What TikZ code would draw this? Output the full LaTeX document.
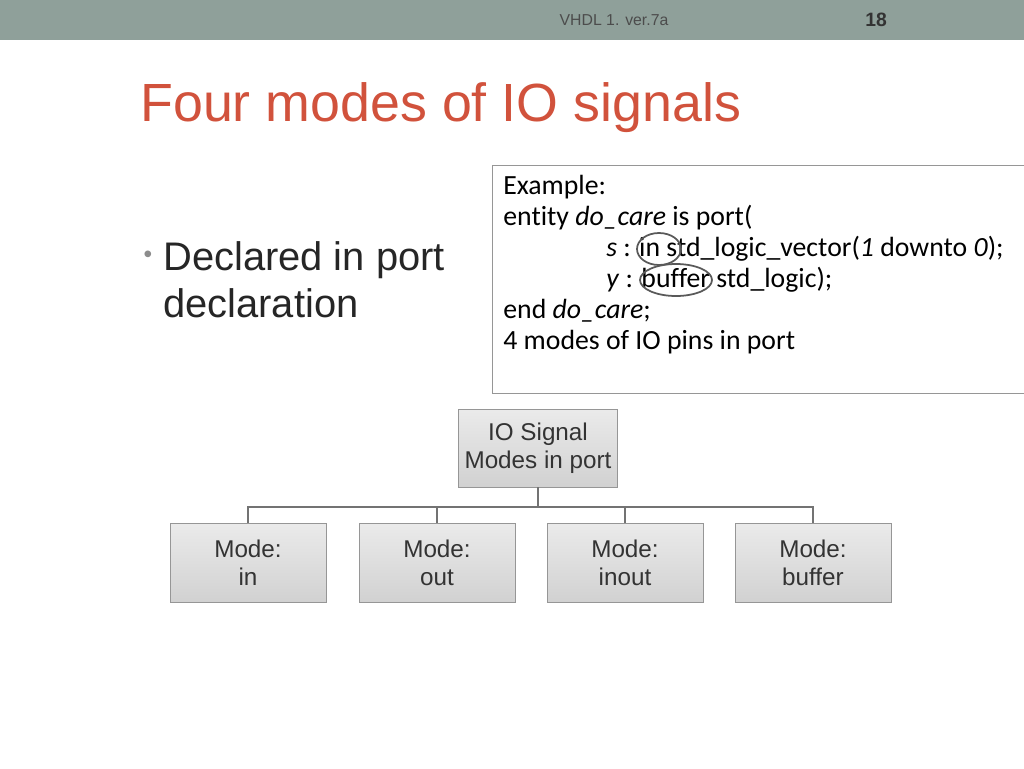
\documentclass[tikz,border=0pt]{standalone}
\usepackage{fontspec}
\setmainfont{Liberation Sans}
\newfontfamily\calfont[Ligatures=NoCommon]{Carlito}
\usetikzlibrary{positioning,shapes.geometric}
\definecolor{barcol}{RGB}{143,160,154}
\definecolor{titlecol}{RGB}{209,82,60}
\definecolor{boxline}{RGB}{150,150,150}
\tikzset{
  modebox/.style={draw=boxline, top color=white!92!black, bottom color=white!82!black,
    minimum width=156\px, minimum height=79\px, align=center, font=\fontsize{13.8}{16}\selectfont, text=black!80},
  treeline/.style={draw=black!55, line width=1.6pt},
}
\newlength\px \setlength\px{0.02cm}
\begin{document}
\begin{tikzpicture}[x=0.02cm,y=-0.02cm]
  \useasboundingbox (0,0) rectangle (1024,768);
  % Header bar
  \fill[barcol] (0,0) rectangle (1024,40);
  \node[text=black!70, font=\fontsize{9}{11}\selectfont] (hdr) at (614,20) {VHDL 1. ver.7a};
  \node[text=black!80, font=\bfseries\fontsize{11}{13}\selectfont] (num) at (876,20) {18};
  % Title and bullet
  \node[anchor=west, text=titlecol, font=\fontsize{30.6}{34}\selectfont, inner sep=0] (title) at (140,108) {Four modes of IO signals};
  \node[anchor=west, text=black!85, font=\fontsize{22.7}{27}\selectfont, align=left, inner sep=0] (bullet) at (163,280)
    {Declared in port\\declaration};
  \node[text=black!45, font=\fontsize{14}{14}\selectfont] (dot) at (148,257) {\textbullet};
  % Example box
  \draw[boxline] (492,165) rectangle (1024,393);
  \begin{scope}[every node/.style={anchor=west, inner sep=0, font=\calfont\fontsize{15.8}{17}\selectfont}]
    \node (l1) at (503,187) {Example:};
    \node (l2) at (503,218) {entity \textit{do\_care} is port(};
    \node (l3) at (606,249) {\textit{s} : in std\_logic\_vector(\textit{1} downto \textit{0});};
    \node (l4) at (606,280) {\textit{y} : buffer std\_logic);};
    \node (l5) at (503,311) {end \textit{do\_care};};
    \node (l6) at (503,342) {4 modes of IO pins in port};
  \end{scope}
  \draw[black!65, line width=1pt] (659,249) ellipse (22 and 16);
  \draw[black!65, line width=1pt] (676,280) ellipse (36 and 16);
  % Tree
  \node[modebox, minimum height=78\px] (root) at (538,448) {IO Signal\\Modes in port};
  \foreach \name/\x/\txt in {min/248/in, mout/437/out, minout/625/inout, mbuf/813/buffer} {
    \node[modebox] (\name) at (\x,562.5) {Mode:\\\txt};
  }
  \coordinate (fork) at (538,507);
  \draw[treeline] (root.south) -- (fork);
  \draw[treeline] (min.north) |- (fork) -| (mbuf.north);
  \draw[treeline] (mout.north) -- (mout.north |- fork);
  \draw[treeline] (minout.north) -- (minout.north |- fork);
\end{tikzpicture}
\end{document}
